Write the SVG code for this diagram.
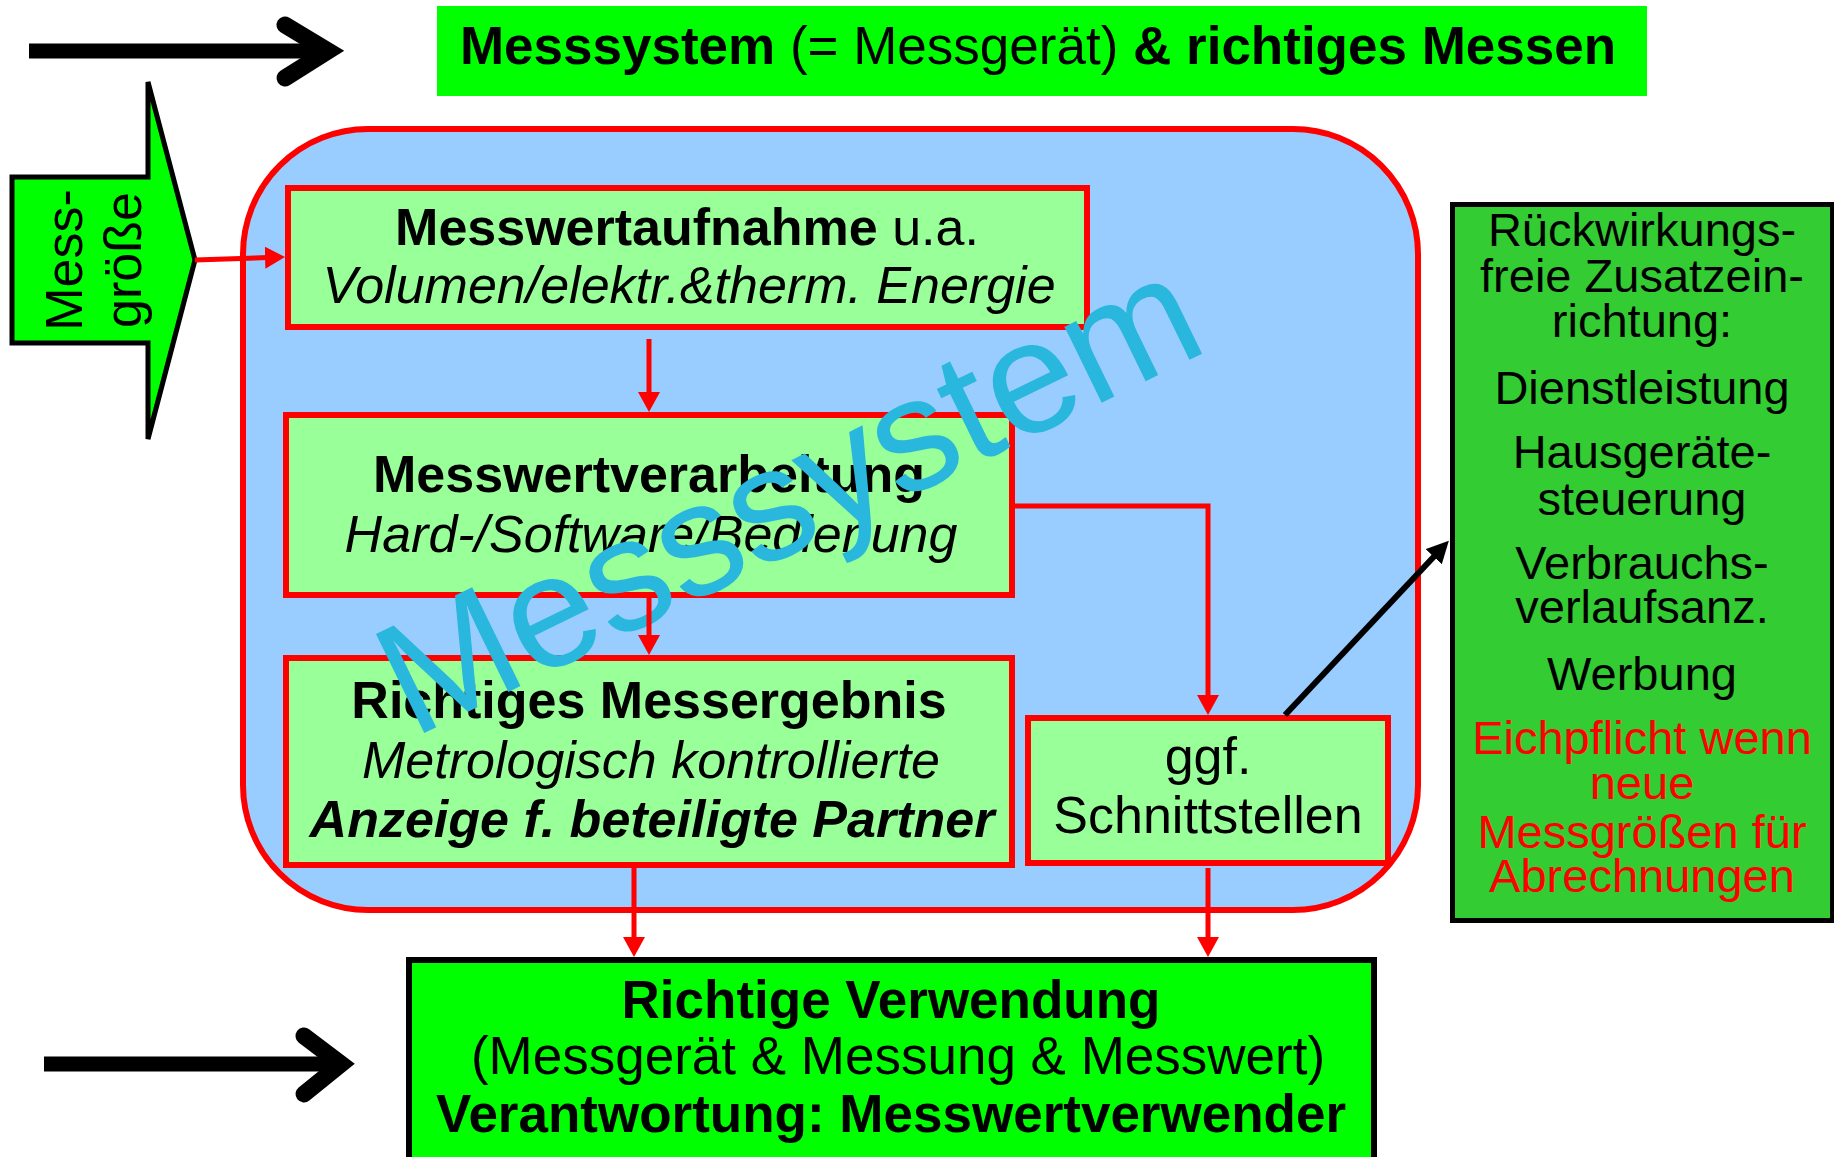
<svg xmlns="http://www.w3.org/2000/svg" width="1834" height="1157" viewBox="0 0 1834 1157">
<style>
text{font-family:"Liberation Sans",Arial,sans-serif;fill:#000}
.t53{font-size:53px}
.t52{font-size:52px}
.t47{font-size:47px}
.b{font-weight:bold}
.i{font-style:italic}
.inner{fill:#99ff99;stroke:#ff0000;stroke-width:6}
.red{fill:none;stroke:#ff0000;stroke-width:5}
.blk{fill:none;stroke:#000;stroke-width:6}
</style>
<defs>
<marker id="ar" markerUnits="userSpaceOnUse" markerWidth="20" markerHeight="22" viewBox="0 0 20 22" refX="10" refY="11" orient="auto"><path d="M0,0 L20,11 L0,22 z" fill="#ff0000"/></marker>
<marker id="ab" markerUnits="userSpaceOnUse" markerWidth="22" markerHeight="22" viewBox="0 0 22 22" refX="12" refY="11" orient="auto"><path d="M0,0 L22,11 L0,22 z" fill="#000"/></marker>
</defs>
<rect width="1834" height="1157" fill="#fff"/>

<g id="arrow-top">
<line x1="29" y1="51" x2="322" y2="51" stroke="#000" stroke-width="15"/>
<polyline points="285,25 328,51 285,78" fill="none" stroke="#000" stroke-width="17" stroke-linecap="round" stroke-linejoin="miter"/>
</g>
<g id="arrow-bottom">
<line x1="44" y1="1064" x2="335" y2="1064" stroke="#000" stroke-width="15"/>
<polyline points="304,1036 341,1064 304,1094" fill="none" stroke="#000" stroke-width="17" stroke-linecap="round"/>
</g>

<g id="title">
<rect x="437" y="6" width="1210" height="90" fill="#00ff00"/>
<text class="t53" x="1038" y="64" text-anchor="middle"><tspan class="b">Messsystem</tspan> (= Messgerät) <tspan class="b">&amp; richtiges Messen</tspan></text>
</g>

<g id="messgroesse">
<polygon points="12,177 148,177 148,82 195,260 148,439 148,343 12,343" fill="#00ff00" stroke="#000" stroke-width="5"/>
<text class="t52" transform="translate(82,260) rotate(-90)" text-anchor="middle">Mess-</text>
<text class="t52" transform="translate(141,260) rotate(-90)" text-anchor="middle">größe</text>
</g>

<g id="messsystem">
<rect x="243" y="129" width="1175" height="781" rx="125" ry="125" fill="#99ccff" stroke="#ff0000" stroke-width="6"/>
</g>

<g id="messwertaufnahme">
<rect class="inner" x="288" y="188" width="799" height="139"/>
<text class="t52" x="687" y="245" text-anchor="middle"><tspan class="b">Messwertaufnahme</tspan> u.a.</text>
<text class="t52 i" x="689" y="303" text-anchor="middle">Volumen/elektr.&amp;therm. Energie</text>
</g>

<g id="messwertverarbeitung">
<rect class="inner" x="286" y="415" width="726" height="180"/>
<text class="t52 b" x="649" y="492" text-anchor="middle">Messwertverarbeitung</text>
<text class="t52 i" x="651" y="552" text-anchor="middle">Hard-/Software/Bedienung</text>
</g>

<g id="messergebnis">
<rect class="inner" x="286" y="658" width="726" height="207"/>
<text class="t52 b" x="649" y="718" text-anchor="middle">Richtiges Messergebnis</text>
<text class="t52 i" x="651" y="778" text-anchor="middle">Metrologisch kontrollierte</text>
<text class="t52 b i" x="652" y="837" text-anchor="middle">Anzeige f. beteiligte Partner</text>
</g>

<g id="schnittstellen">
<rect class="inner" x="1028" y="718" width="360" height="145"/>
<text class="t52" x="1208" y="774" text-anchor="middle">ggf.</text>
<text class="t52" x="1208" y="833" text-anchor="middle">Schnittstellen</text>
</g>

<g id="watermark">
<text x="812" y="544" text-anchor="middle" transform="rotate(-26 812 544)" style="font-size:160px;fill:#29b7dd">Messsystem</text>
</g>

<g id="zusatzeinrichtung">
<rect x="1452.5" y="204.5" width="380" height="716" fill="#33cc33" stroke="#000" stroke-width="5"/>
<g class="t47" text-anchor="middle">
<text x="1642" y="246">Rückwirkungs-</text>
<text x="1642" y="292">freie Zusatzein-</text>
<text x="1642" y="337">richtung:</text>
<text x="1642" y="404">Dienstleistung</text>
<text x="1642" y="468">Hausgeräte-</text>
<text x="1642" y="515">steuerung</text>
<text x="1642" y="579">Verbrauchs-</text>
<text x="1642" y="623">verlaufsanz.</text>
<text x="1642" y="690">Werbung</text>
<text x="1642" y="754" style="fill:#ff0000">Eichpflicht wenn</text>
<text x="1642" y="799" style="fill:#ff0000">neue</text>
<text x="1642" y="848" style="fill:#ff0000">Messgrößen für</text>
<text x="1642" y="892" style="fill:#ff0000">Abrechnungen</text>
</g>
</g>

<g id="verwendung">
<rect x="409" y="960" width="965" height="210" fill="#00ff00" stroke="#000" stroke-width="6"/>
<text class="t53 b" x="891" y="1018" text-anchor="middle">Richtige Verwendung</text>
<text class="t53" x="898" y="1074" text-anchor="middle">(Messgerät &amp; Messung &amp; Messwert)</text>
<text class="t53 b" x="891" y="1132" text-anchor="middle">Verantwortung: Messwertverwender</text>
</g>

<g id="connectors">
<path class="red" d="M195,260 L275,257.3" marker-end="url(#ar)"/>
<path class="red" d="M649,339 L649,402" marker-end="url(#ar)"/>
<path class="red" d="M649,598 L649,645" marker-end="url(#ar)"/>
<path class="red" d="M1013,506 L1208,506 L1208,705" marker-end="url(#ar)"/>
<path class="red" d="M634,868 L634,947" marker-end="url(#ar)"/>
<path class="red" d="M1208,868 L1208,947" marker-end="url(#ar)"/>
<path class="blk" d="M1285,715 L1442,548" marker-end="url(#ab)"/>
</g>
</svg>
